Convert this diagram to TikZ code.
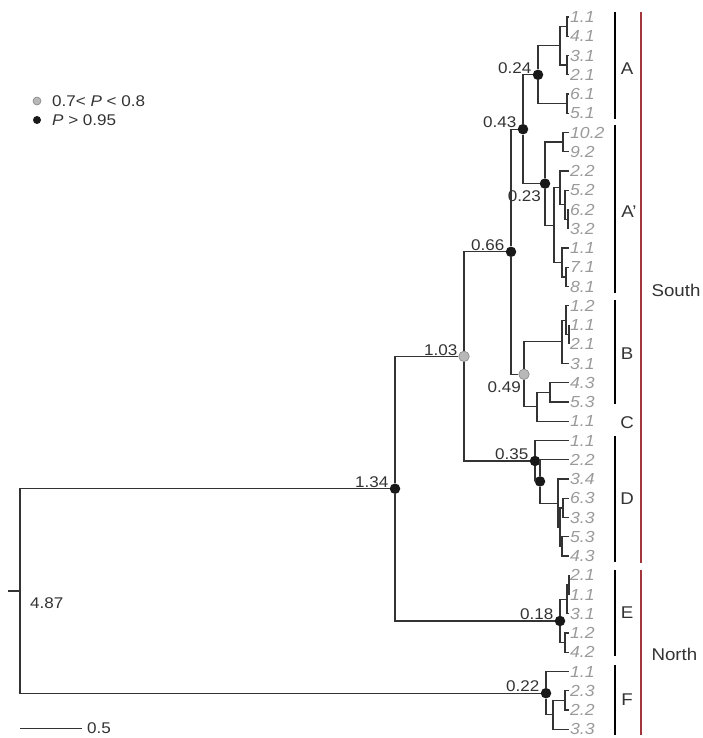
\documentclass[tikz,border=0pt]{standalone}
\usepackage{fontspec}
\setmainfont{Liberation Sans}[FakeStretch=1.1]
\definecolor{edgegray}{HTML}{333333}
\definecolor{leafgray}{HTML}{9A9A9A}
\definecolor{dotgray}{HTML}{B8B8B8}
\definecolor{regionred}{HTML}{A3363C}
\tikzset{
  br/.style={line width=1.2pt,edgegray},
  leaf/.style={anchor=west,inner sep=1pt,text=leafgray,font=\fontsize{16}{16}\selectfont\itshape},
  bdot/.style={circle,fill=black!90,inner sep=0pt,minimum size=10.5pt},
  gdot/.style={circle,fill=dotgray,draw=edgegray!60,line width=0.6pt,inner sep=0pt,minimum size=10.5pt},
  val/.style={inner sep=1pt,text=edgegray,font=\fontsize{15.5}{15.5}\selectfont},
  clade/.style={line width=1.5pt,black},
  region/.style={line width=1.2pt,regionred},
  cname/.style={text=edgegray,font=\fontsize{17}{17}\selectfont},
}
\begin{document}
\begin{tikzpicture}[x=1pt,y=-1pt]
   \useasboundingbox (0,0) rectangle (703,738);
   %leaves
   \foreach \lab [count=\i] in {1.1,4.1,3.1,2.1,6.1,5.1,
        10.2,9.2,2.2,5.2,6.2,3.2,1.1,7.1,8.1,
        1.2,1.1,2.1,3.1,4.3,5.3,1.1,
        1.1,2.2,3.4,6.3,3.3,5.3,4.3,
        2.1,1.1,3.1,1.2,4.2,
        1.1,2.3,2.2,3.3}
     \node[leaf] (l\i) at (569,{17+19.25*(\i-1)}) {\lab};
   %A
   \coordinate (a12) at (567,26.6);
   \coordinate (a34) at (567,65.1);
   \coordinate (a14) at (560,45.9);
   \coordinate (a56) at (567,103.6);
   \node[bdot] (nA) at (538,74.8) {};
   %A'
   \coordinate (p78) at (563,142.1);
   \coordinate (p1112) at (568,219.1);
   \coordinate (p1012) at (565,204.7);
   \coordinate (p912) at (560,187.8);
   \coordinate (p1415) at (566,276.9);
   \coordinate (p1315) at (562,262.4);
   \coordinate (p915) at (554,225.1);
   \node[bdot] (nAp) at (545,183.6) {};
   \node[bdot] (nAAp) at (523,129.2) {};
   %B and C
   \coordinate (b1718) at (569,334.6);
   \coordinate (b1618) at (566,320.2);
   \coordinate (b1619) at (562,341.8);
   \coordinate (c2021) at (550,392.4);
   \coordinate (c2022) at (537,406.8);
   \node[gdot] (nBC) at (524,374.3) {};
   \node[bdot] (nSouthA) at (511,251.8) {};
   %D
   \coordinate (d2627) at (563,507.9);
   \coordinate (d2829) at (562,546.4);
   \coordinate (d2629) at (560,527.1);
   \coordinate (d2529) at (558,503.1);
   \node[bdot] (nD2) at (540,481.4) {};
   \node[bdot] (nD) at (535,461) {};
   \node[gdot] (nSouth) at (464,356.4) {};
   %E
   \coordinate (e3031) at (569,584.9);
   \coordinate (e3032) at (567,599.3);
   \coordinate (e3334) at (565,642.6);
   \node[bdot] (nE) at (560,621) {};
   \node[bdot] (nSE) at (395,488.7) {};
   %F and root
   \coordinate (f3637) at (565,700.4);
   \coordinate (f3638) at (553,714.8);
   \node[bdot] (nF) at (546,693.2) {};
   \coordinate (root) at (20,591);
   \coordinate (stub) at (8,591);
   %branches
   \draw[br] (a12) |- (l1) (a12) |- (l2) (a34) |- (l3) (a34) |- (l4)
     (a14) |- (a12) (a14) |- (a34) (a56) |- (l5) (a56) |- (l6)
     (nA) |- (a14) (nA) |- (a56);
   \draw[br] (p78) |- (l7) (p78) |- (l8) (p1112) |- (l11) (p1112) |- (l12)
     (p1012) |- (l10) (p1012) |- (p1112) (p912) |- (l9) (p912) |- (p1012)
     (p1415) |- (l14) (p1415) |- (l15) (p1315) |- (l13) (p1315) |- (p1415)
     (p915) |- (p912) (p915) |- (p1315) (nAp) |- (p78) (nAp) |- (p915)
     (nAAp) |- (nA) (nAAp) |- (nAp);
   \draw[br] (b1718) |- (l17) (b1718) |- (l18) (b1618) |- (l16) (b1618) |- (b1718)
     (b1619) |- (b1618) (b1619) |- (l19) (c2021) |- (l20) (c2021) |- (l21)
     (c2022) |- (c2021) (c2022) |- (l22) (nBC) |- (b1619) (nBC) |- (c2022)
     (nSouthA) |- (nAAp) (nSouthA) |- (nBC);
   \draw[br] (d2627) |- (l26) (d2627) |- (l27) (d2829) |- (l28) (d2829) |- (l29)
     (d2629) |- (d2627) (d2629) |- (d2829) (d2529) |- (l25) (d2529) |- (d2629)
     (nD2) |- (l24) (nD2) |- (d2529) (nD) |- (l23) (nD) |- (nD2)
     (nSouth) |- (nSouthA) (nSouth) |- (nD);
   \draw[br] (e3031) |- (l30) (e3031) |- (l31) (e3032) |- (e3031) (e3032) |- (l32)
     (e3334) |- (l33) (e3334) |- (l34) (nE) |- (e3032) (nE) |- (e3334)
     (nSE) |- (nSouth) (nSE) |- (nE);
   \draw[br] (f3637) |- (l36) (f3637) |- (l37) (f3638) |- (f3637) (f3638) |- (l38)
     (nF) |- (l35) (nF) |- (f3638) (root) |- (nSE) (root) |- (nF) (stub) -- (root);
   %node values
   \node[val,anchor=south east] (v024) at (nA.west) {0.24};
   \node[val,anchor=south east] (v043) at (nAAp.west) {0.43};
   \node[val,anchor=north east,xshift=1pt,yshift=-2pt] (v023) at (nAp.south west) {0.23};
   \node[val,anchor=south east] (v066) at (nSouthA.west) {0.66};
   \node[val,anchor=south east] (v103) at (nSouth.west) {1.03};
   \node[val,anchor=north east,xshift=2pt,yshift=-2pt] (v049) at (nBC.south west) {0.49};
   \node[val,anchor=south east] (v035) at (nD.west) {0.35};
   \node[val,anchor=south east] (v134) at (nSE.west) {1.34};
   \node[val,anchor=south east] (v018) at (nE.west) {0.18};
   \node[val,anchor=south east] (v022) at (nF.west) {0.22};
   \node[val,anchor=north west,xshift=9pt,yshift=-5pt] (v487) at (root) {4.87};
   %clades
   \draw[clade] (615,12) -- (615,119);
   \draw[clade] (615,125) -- (615,293);
   \draw[clade] (615,300) -- (615,404);
   \draw[clade] (615,436) -- (615,562);
   \draw[clade] (615,570) -- (615,656);
   \draw[clade] (615,665) -- (615,735);
   \node[cname] (cA) at (627,69) {A};
   \node[cname] (cAp) at (629,212) {A'};
   \node[cname] (cB) at (627,354) {B};
   \node[cname] (cC) at (627,423) {C};
   \node[cname] (cD) at (627,499) {D};
   \node[cname] (cE) at (627,613) {E};
   \node[cname] (cF) at (627,700) {F};
   %regions
   \draw[region] (641,12) -- (641,563);
   \draw[region] (641,570) -- (641,735);
   \node[cname,anchor=west] (south) at (648,290) {South};
   \node[cname,anchor=west] (north) at (648,654) {North};
   %legend
   \node[gdot,minimum size=8pt] (kg) at (37,101) {};
   \node[val,anchor=west] (kgt) at (51,101) {0.7< \textit{P} < 0.8};
   \node[bdot,minimum size=8pt] (kb) at (37,120) {};
   \node[val,anchor=west] (kbt) at (51,120) {\textit{P} > 0.95};
   %scale
   \coordinate (s0) at (20,728);
   \coordinate (s1) at (82,728);
   \draw[br,line width=1pt] (s0) -- (s1);
   \node[val,anchor=west,xshift=4pt] (sl) at (s1) {0.5};
\end{tikzpicture}
\end{document}
